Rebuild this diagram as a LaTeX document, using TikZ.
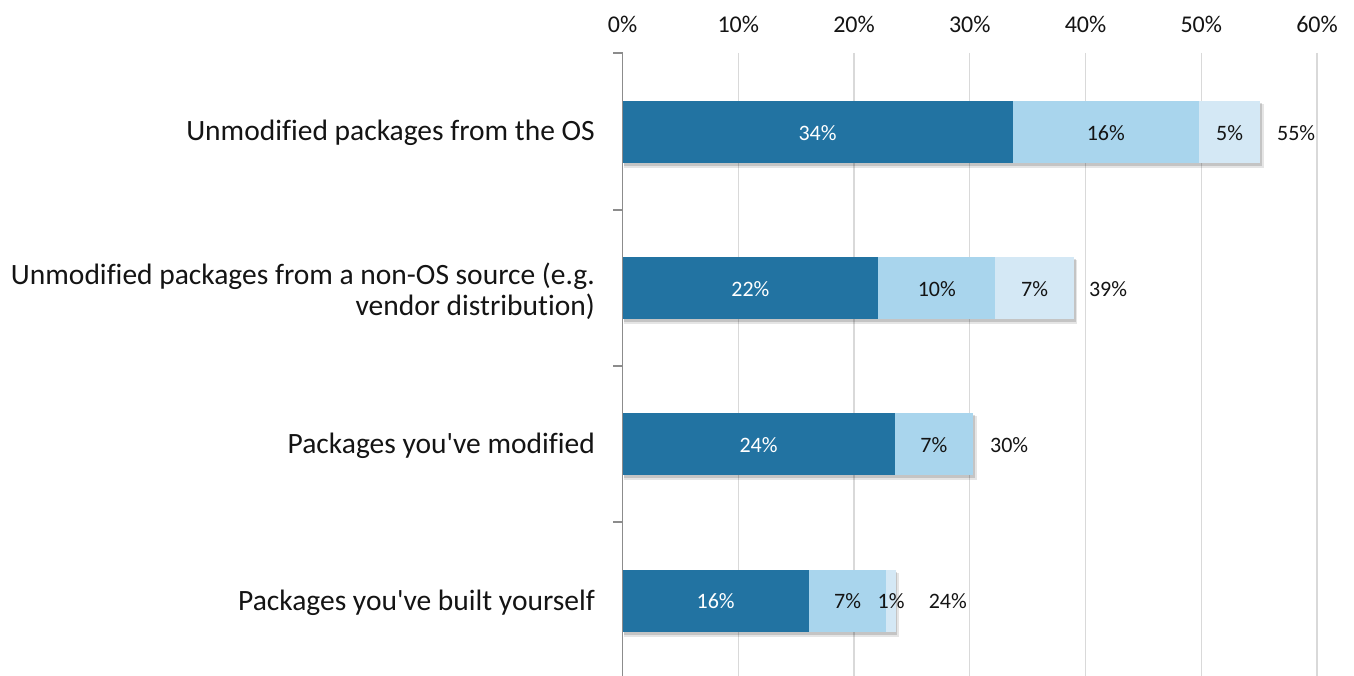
\documentclass[tikz,border=0pt]{standalone}
\usepackage{fontspec}
\setmainfont{Carlito}[Ligatures={NoCommon}]
\newfontfamily\catfont{Carlito}[Ligatures={NoCommon}]
\definecolor{cDark}{RGB}{34,115,162}
\definecolor{cMid}{RGB}{169,213,237}
\definecolor{cLight}{RGB}{212,232,245}
\definecolor{cGrid}{RGB}{217,217,217}
\definecolor{cAxis}{RGB}{140,140,140}
\definecolor{cText}{RGB}{20,20,20}
\begin{document}
\begin{tikzpicture}[x=1pt,y=-1pt,
  catlabel/.style={anchor=east,align=right,text=cText,inner sep=0pt,
    font=\catfont\fontsize{29.5}{31}\selectfont},
  axlabel/.style={text=cText,inner sep=0pt,font=\fontsize{24}{26}\selectfont},
  seglabel/.style={text=cText,inner sep=0pt,font=\fontsize{22}{24}\selectfont},
  whitelabel/.style={seglabel,text=white},
  gridline/.style={draw=cGrid,line width=1.2pt},
  axisline/.style={draw=cAxis,line width=1.4pt},
  shadowA/.style={fill=black,opacity=0.10},
  shadowB/.style={fill=black,opacity=0.14}]
\useasboundingbox (0,0) rectangle (1354,676);
\fill[white] (0,0) rectangle (1354,676);

\begin{scope}[shift={(622.5,0)},x=11.575pt]
  % gridlines and axis labels
  \foreach \v in {10,20,30,40,50,60}{
    \coordinate (gt\v) at (\v,53);
    \coordinate (gb\v) at (\v,676);
    \draw[gridline] (gt\v) -- (gb\v);
  }
  \foreach \v in {0,10,20,30,40,50,60}{
    \node[axlabel] (ax\v) at (\v,24) {\v\%};
  }
  % shadows
  \foreach \e/\yt in {55.1/101,39.0/257,30.3/413,23.6/570}{
    \fill[shadowA] (0.15,\yt+3) rectangle (\e+0.3,\yt+62+5);
    \fill[shadowB] (0.1,\yt+2) rectangle (\e+0.15,\yt+62+3);
  }
  % bar 1
  \fill[cDark]  (0,101) rectangle (33.7,163);
  \fill[cMid]   (33.7,101) rectangle (49.8,163);
  \fill[cLight] (49.8,101) rectangle (55.1,163);
  % bar 2
  \fill[cDark]  (0,257) rectangle (22.1,319);
  \fill[cMid]   (22.1,257) rectangle (32.2,319);
  \fill[cLight] (32.2,257) rectangle (39.0,319);
  % bar 3
  \fill[cDark]  (0,413) rectangle (23.5,475);
  \fill[cMid]   (23.5,413) rectangle (30.3,475);
  % bar 4
  \fill[cDark]  (0,570) rectangle (16.1,632);
  \fill[cMid]   (16.1,570) rectangle (22.8,632);
  \fill[cLight] (22.8,570) rectangle (23.6,632);

  % segment labels
  \node[whitelabel] (l1a) at (16.85,133) {34\%};
  \node[seglabel]   (l1b) at (41.75,133) {16\%};
  \node[seglabel]   (l1c) at (52.45,133) {5\%};
  \node[seglabel]   (l1t) at (58.2,133)  {55\%};

  \node[whitelabel] (l2a) at (11.05,289) {22\%};
  \node[seglabel]   (l2b) at (27.15,289) {10\%};
  \node[seglabel]   (l2c) at (35.6,289)  {7\%};
  \node[seglabel]   (l2t) at (41.95,289) {39\%};

  \node[whitelabel] (l3a) at (11.75,445) {24\%};
  \node[seglabel]   (l3b) at (26.9,445)  {7\%};
  \node[seglabel]   (l3t) at (33.4,445)  {30\%};

  \node[whitelabel] (l4a) at (8.05,601)  {16\%};
  \node[seglabel]   (l4b) at (19.45,601) {7\%};
  \node[seglabel]   (l4c) at (23.2,601)  {1\%};
  \node[seglabel]   (l4t) at (28.1,601)  {24\%};

  % vertical axis and ticks
  \coordinate (axtop) at (0,53);
  \coordinate (axbot) at (0,676);
  \draw[axisline] (axtop) -- (axbot);
  \foreach \t in {53,210,366,522}{
    \coordinate (tk\t) at (0,\t);
    \coordinate (tl\t) at (-0.8,\t);
    \draw[axisline] (tl\t) -- (tk\t);
  }
\end{scope}

% category labels
\node[catlabel] (c1) at (595,133) {Unmodified packages from the OS};
\node[catlabel] (c2) at (595,291) {Unmodified packages from a non-OS source (e.g.\\vendor distribution)};
\node[catlabel] (c3) at (595,446) {Packages you've modified};
\node[catlabel] (c4) at (595,603) {Packages you've built yourself};
\end{tikzpicture}
\end{document}
